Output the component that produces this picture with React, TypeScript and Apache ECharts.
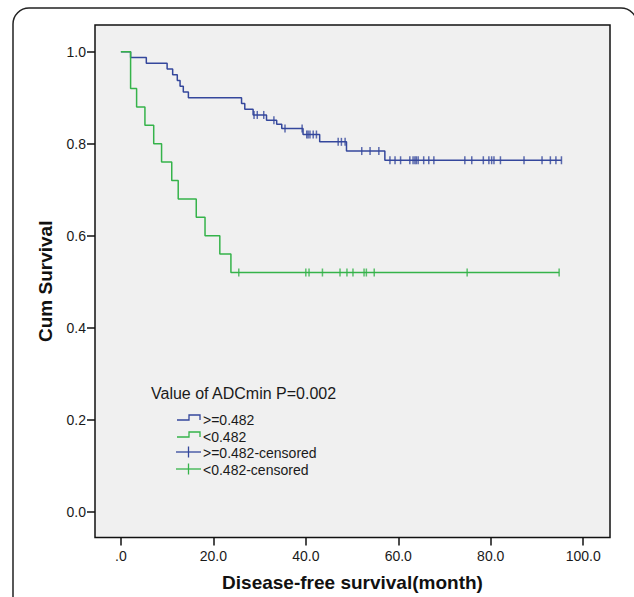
import React, { useEffect, useRef } from "react";
import * as echarts from "echarts";

// Tick values
const xTicks = [0, 20, 40, 60, 80, 100];
const yTicks = [0, 0.2, 0.4, 0.6, 0.8, 1.0];

// Kaplan-Meier steps: >=0.482 group (blue)
const blueTimes = [0, 2.1, 5.5, 10.0, 11.2, 12.2, 12.8, 13.5, 14.6, 26.1, 26.8, 28.6, 31.5, 33.7, 34.8, 39.4, 43.0, 48.8, 57.1, 95.3];
const blueSurv = [1.0, 0.9875, 0.975, 0.9625, 0.95, 0.9375, 0.925, 0.9125, 0.9, 0.8875, 0.875, 0.8625, 0.851, 0.842, 0.833, 0.82, 0.804, 0.784, 0.764, 0.764];
const blueCensored = [28.8, 29.5, 30.9, 33.1, 35.5, 39.2, 40.2, 40.5, 40.9, 41.6, 42.3, 47.0, 47.7, 48.5, 52.1, 53.9, 55.8, 58.2, 59.3, 60.5, 62.5, 63.2, 63.6, 63.9, 64.3, 65.5, 66.6, 67.7, 74.4, 75.9, 78.4, 79.6, 80.2, 80.7, 82.1, 87.2, 91.1, 92.9, 94.1, 95.3];

// Kaplan-Meier steps: <0.482 group (green)
const greenTimes = [0, 2.1, 3.4, 5.2, 7.1, 8.8, 11.0, 12.4, 16.3, 18.2, 21.4, 23.8, 94.8];
const greenSurv = [1.0, 0.92, 0.88, 0.84, 0.8, 0.76, 0.72, 0.68, 0.64, 0.6, 0.56, 0.52, 0.52];
const greenCensored = [25.5, 40.0, 40.7, 43.6, 47.4, 48.9, 50.2, 52.6, 53.1, 54.8, 74.9, 94.8];

const legendTitle = "Value of ADCmin P=0.002";
const legendLabels = [">=0.482", "<0.482", ">=0.482-censored", "<0.482-censored"];

const BLUE = "#34479c";
const GREEN = "#35b34a";
const FONT = "Arial, 'Liberation Sans', sans-serif";

function survAt(times: number[], surv: number[], t: number): number {
  let s = surv[0];
  for (let i = 0; i < times.length; i++) {
    if (times[i] <= t) s = surv[i];
  }
  return s;
}

export default function App() {
  const ref = useRef<HTMLDivElement>(null);
  useEffect(() => {
    document.body.style.margin = "0";
    if (!ref.current) return;
    const chart = echarts.init(ref.current, undefined, { renderer: "svg" });
    const blueLine = blueTimes.map((t, i) => [t, blueSurv[i]]);
    const greenLine = greenTimes.map((t, i) => [t, greenSurv[i]]);
    const blueCens = blueCensored.map((t) => [t, survAt(blueTimes, blueSurv, t)]);
    const greenCens = greenCensored.map((t) => [t, survAt(greenTimes, greenSurv, t)]);

    const stepIcon = (y: number, color: string) => ({
      type: "polyline",
      shape: { points: [[177, y + 2], [189, y + 2], [189, y - 3], [200, y - 3], [200, y + 2]] },
      style: { stroke: color, lineWidth: 1.3, fill: "none" },
    });
    const censIcon = (y: number, color: string) => ({
      type: "group",
      children: [
        { type: "line", shape: { x1: 176, y1: y, x2: 201, y2: y }, style: { stroke: color, lineWidth: 1.3 } },
        { type: "line", shape: { x1: 188.5, y1: y - 5.5, x2: 188.5, y2: y + 5.5 }, style: { stroke: color, lineWidth: 1.3 } },
      ],
    });
    const legendText = (y: number, text: string) => ({
      type: "text",
      x: 203,
      y,
      style: { text, fontSize: 14, fontFamily: FONT, fill: "#1a1a1a", textVerticalAlign: "middle", verticalAlign: "middle" },
    });

    chart.setOption({
      animation: false,
      backgroundColor: "#ffffff",
      grid: {
        left: 95,
        top: 25,
        right: 24,
        bottom: 57,
        show: true,
        backgroundColor: "#f0f0f0",
        borderColor: "#111",
        borderWidth: 1.5,
      },
      xAxis: {
        type: "value",
        min: -5.6,
        max: 105.8,
        name: "Disease-free survival(month)",
        nameLocation: "middle",
        nameGap: 45,
        nameTextStyle: { fontSize: 19, fontWeight: "bold", fontFamily: FONT, color: "#111", verticalAlign: "middle" },
        axisLine: { show: false, onZero: false },
        splitLine: { show: false },
        axisTick: { show: true, length: 8, customValues: xTicks, lineStyle: { color: "#111", width: 1.5 } },
        axisLabel: {
          customValues: xTicks,
          margin: 11,
          fontSize: 14,
          fontFamily: FONT,
          color: "#1a1a1a",
          formatter: (v: number) => (v === 0 ? ".0" : v.toFixed(1)),
        },
      },
      yAxis: {
        type: "value",
        min: -0.056,
        max: 1.058,
        name: "Cum Survival",
        nameLocation: "middle",
        nameRotate: 90,
        nameGap: 50,
        nameTextStyle: { fontSize: 19, fontWeight: "bold", fontFamily: FONT, color: "#111", verticalAlign: "middle" },
        axisLine: { show: false, onZero: false },
        splitLine: { show: false },
        axisTick: { show: true, length: 8, customValues: yTicks, lineStyle: { color: "#111", width: 1.5 } },
        axisLabel: {
          customValues: yTicks,
          margin: 9,
          fontSize: 14,
          fontFamily: FONT,
          color: "#1a1a1a",
          formatter: (v: number) => v.toFixed(1),
        },
      },
      series: [
        {
          name: ">=0.482",
          type: "line",
          step: "end",
          data: blueLine,
          showSymbol: false,
          symbol: "none",
          lineStyle: { color: BLUE, width: 1.5 },
          z: 2,
        },
        {
          name: ">=0.482-censored",
          type: "scatter",
          data: blueCens,
          symbol: "rect",
          symbolSize: [1.5, 8],
          itemStyle: { color: BLUE },
          z: 3,
        },
        {
          name: "<0.482",
          type: "line",
          step: "end",
          data: greenLine,
          showSymbol: false,
          symbol: "none",
          lineStyle: { color: GREEN, width: 1.5 },
          z: 4,
        },
        {
          name: "<0.482-censored",
          type: "scatter",
          data: greenCens,
          symbol: "rect",
          symbolSize: [1.5, 8],
          itemStyle: { color: GREEN },
          z: 5,
        },
      ],
      graphic: [
        {
          type: "rect",
          shape: { x: 13, y: 8, width: 624, height: 640, r: 16 },
          style: { fill: "none", stroke: "#222", lineWidth: 1.5 },
          silent: true,
        },
        {
          type: "text",
          x: 151,
          y: 393,
          style: { text: legendTitle, fontSize: 16, fontFamily: FONT, fill: "#1a1a1a", textVerticalAlign: "middle", verticalAlign: "middle" },
        },
        stepIcon(418, BLUE),
        legendText(420, legendLabels[0]),
        stepIcon(435, GREEN),
        legendText(437, legendLabels[1]),
        censIcon(452, BLUE),
        legendText(453, legendLabels[2]),
        censIcon(469, GREEN),
        legendText(470, legendLabels[3]),
      ],
    });
    return () => chart.dispose();
  }, []);
  return (
    <div
      ref={ref}
      style={{ position: "fixed", left: 0, top: 0, width: 634, height: 597 }}
    />
  );
}
